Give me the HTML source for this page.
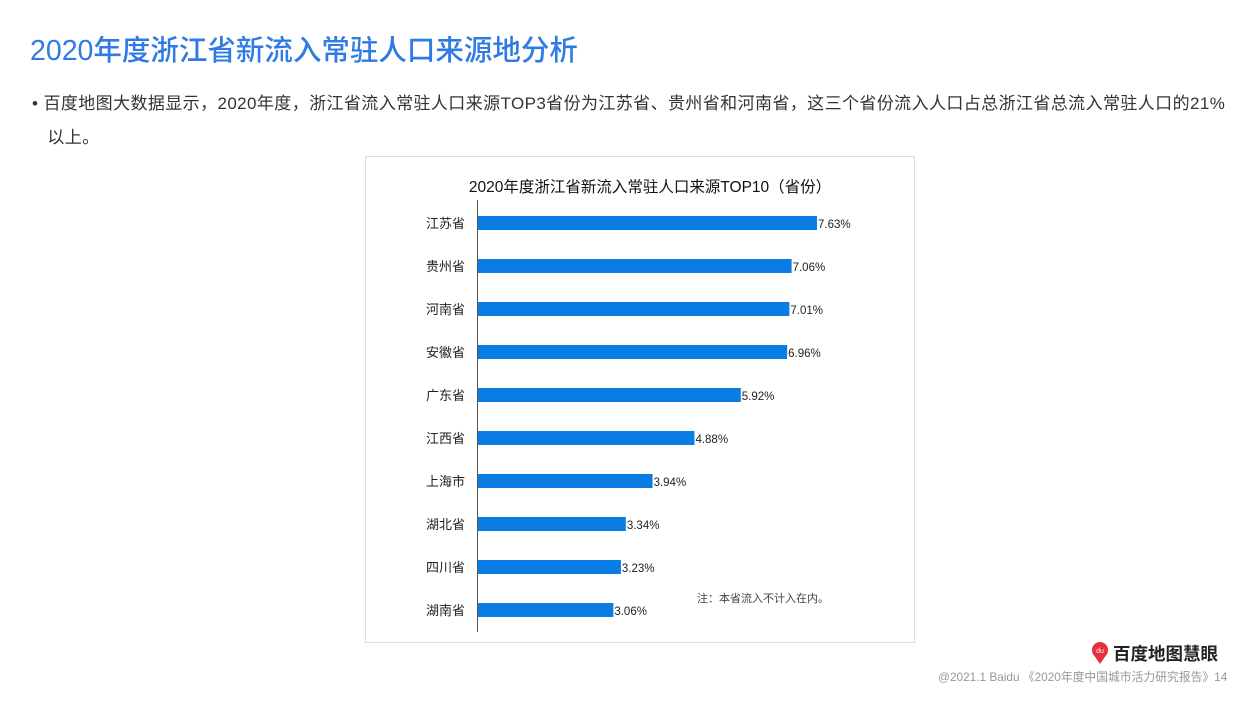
<!DOCTYPE html>
<html><head><meta charset="utf-8"><style>
body{margin:0;width:1259px;height:706px;background:#fff;position:relative;overflow:hidden;font-family:"Liberation Sans","Noto Sans CJK SC",sans-serif}
.t{position:absolute;white-space:nowrap}
</style></head><body>
<div class="t" style="left:30px;top:28px;font-size:28.5px;color:#2f7ae5;font-weight:500">2020年度浙江省新流入常驻人口来源地分析</div>
<div class="t" style="left:32px;top:87px;font-size:17px;color:#333;line-height:34px;letter-spacing:0.4px">• 百度地图大数据显示，2020年度，浙江省流入常驻人口来源TOP3省份为江苏省、贵州省和河南省，这三个省份流入人口占总浙江省总流入常驻人口的21%<br>&nbsp;&nbsp;&nbsp;以上。</div>
<svg style="position:absolute;left:0;top:0" width="1259" height="706">
<rect x="365.5" y="156.5" width="549" height="486" fill="#fff" stroke="#ddd"/>
<text x="650" y="192" text-anchor="middle" font-size="15.5" fill="#111">2020年度浙江省新流入常驻人口来源TOP10（省份）</text>
<g id="bars"></g>
<line x1="477.5" y1="200" x2="477.5" y2="632" stroke="#555"/>
<text x="697" y="602" font-size="11" fill="#444">注：本省流入不计入在内。</text>
</svg>
<svg style="position:absolute;left:1088px;top:640px" width="24" height="26"><circle cx="12" cy="10" r="8" fill="#e8303a"/><path d="M5 14 L12 24 L19 14Z" fill="#e8303a"/><text x="12" y="13" font-size="7" fill="#fff" text-anchor="middle">du</text></svg>
<div class="t" style="left:1113px;top:641px;font-size:17.5px;font-weight:bold;color:#222">百度地图慧眼</div>
<div class="t" style="left:938px;top:668px;font-size:11.8px;color:#999">@2021.1 Baidu 《2020年度中国城市活力研究报告》14</div>
<script>
const categories=["江苏省","贵州省","河南省","安徽省","广东省","江西省","上海市","湖北省","四川省","湖南省"];
const values=[7.63,7.06,7.01,6.96,5.92,4.88,3.94,3.34,3.23,3.06];
const labels=["7.63%","7.06%","7.01%","6.96%","5.92%","4.88%","3.94%","3.34%","3.23%","3.06%"];
const x=v=>477+v*44.56, y=i=>223+i*43;
const g=document.getElementById('bars'),ns="http://www.w3.org/2000/svg";
categories.forEach((c,i)=>{
 const r=document.createElementNS(ns,'rect');
 
 
 r.setAttribute('x',477);r.setAttribute('y',y(i)-7);r.setAttribute('width',x(values[i])-477);r.setAttribute('height',14);r.setAttribute('fill','#0a7de3');g.appendChild(r);
 const t=document.createElementNS(ns,'text');
 
 
 t.setAttribute('x',465);t.setAttribute('y',y(i)+5);t.setAttribute('text-anchor','end');t.setAttribute('font-size','13');t.setAttribute('fill','#222');t.textContent=c;g.appendChild(t);
 const v=document.createElementNS(ns,'text');
 
 
 v.setAttribute('x',x(values[i])+1);v.setAttribute('y',y(i)+5);v.setAttribute('font-size','11.5');v.setAttribute('fill','#222');v.textContent=labels[i];g.appendChild(v);
});
</script>
</body></html>
